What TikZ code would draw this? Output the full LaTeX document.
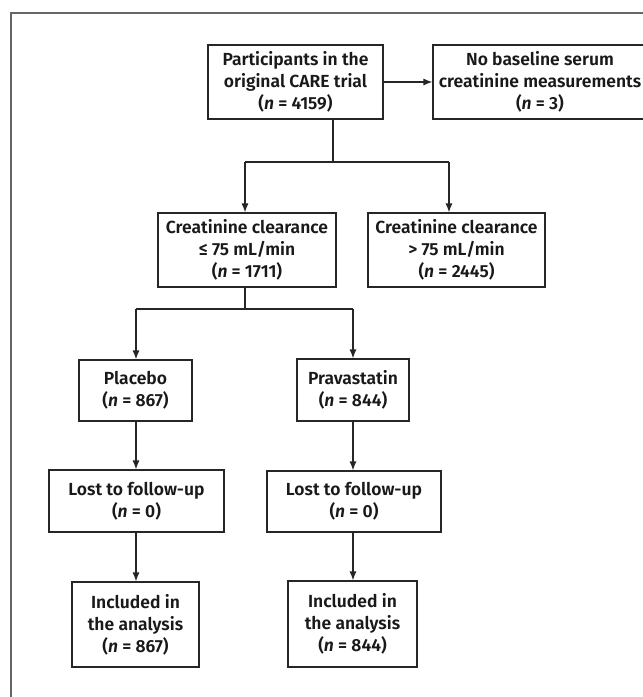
\documentclass[tikz,border=0pt]{standalone}
\usepackage{fontspec}
\setmainfont{Fira Sans}[BoldFont={Fira Sans SemiBold}, BoldItalicFont={Fira Sans SemiBold Italic}]
\usetikzlibrary{arrows.meta}
\tikzset{
  box/.style={draw=black!85, line width=1.2pt, align=center, inner sep=0pt,
    font=\fontsize{17.5}{22}\selectfont\bfseries, text=black!90},
  arr/.style={draw=black!85, line width=1.2pt, -{Latex[length=9pt,width=7pt]}},
  ln/.style={draw=black!85, line width=1.2pt},
  frame/.style={draw=black!60, line width=1.8pt}
}
\newcommand{\nn}{\textit{n}}
\begin{document}
\begin{tikzpicture}[x=1pt,y=-1pt]
\useasboundingbox (0,0) rectangle (643,697);
\fill[white] (0,0) rectangle (643,697);
\draw[frame] (11,720) -- (11,13) -- (700,13);

\node[box, minimum width=175pt, minimum height=74pt] (P) at (295.5,82) {Participants in the\\original CARE trial\\(\nn{} = 4159)};
\node[box, minimum width=214pt, minimum height=74pt] (N) at (540,82) {No baseline serum\\creatinine measurements\\(\nn{} = 3)};
\node[box, minimum width=178pt, minimum height=74pt] (L) at (247,250) {Creatinine clearance\\≤ 75 mL/min\\(\nn{} = 1711)};
\node[box, minimum width=177pt, minimum height=74pt] (G) at (456.5,250) {Creatinine clearance\\> 75 mL/min\\(\nn{} = 2445)};
\node[box, minimum width=113pt, minimum height=61pt] (PL) at (135.5,390.5) {Placebo\\(\nn{} = 867)};
\node[box, minimum width=112pt, minimum height=62pt] (PR) at (353,390) {Pravastatin\\(\nn{} = 844)};
\node[box, minimum width=175pt, minimum height=62pt] (LL) at (136.5,501) {Lost to follow-up\\(\nn{} = 0)};
\node[box, minimum width=174pt, minimum height=61pt] (LR) at (354,501.5) {Lost to follow-up\\(\nn{} = 0)};
\node[box, minimum width=127pt, minimum height=85pt] (IL) at (135.5,624.5) {Included in\\the analysis\\(\nn{} = 867)};
\node[box, minimum width=129pt, minimum height=86pt] (IR) at (352.5,624) {Included in\\the analysis\\(\nn{} = 844)};

\draw[arr] (P.east) -- (N.west);

\coordinate (j1) at (333,162);
\coordinate (ja) at (245,162);
\coordinate (jb) at (449,162);
\draw[ln] (P.south -| j1) -- (j1);
\draw[ln] (ja) -- (jb);
\draw[arr] (ja) -- (ja |- L.north);
\draw[arr] (jb) -- (jb |- G.north);

\coordinate (k1) at (245,309);
\coordinate (ka) at (136,309);
\coordinate (kb) at (353,309);
\draw[ln] (L.south -| k1) -- (k1);
\draw[ln] (ka) -- (kb);
\draw[arr] (ka) -- (ka |- PL.north);
\draw[arr] (kb) -- (kb |- PR.north);

\draw[arr] (PL.south -| ka) -- (ka |- LL.north);
\draw[arr] (PR.south -| kb) -- (kb |- LR.north);
\draw[arr] (LL.south -| ka) -- (ka |- IL.north);
\draw[arr] (LR.south -| kb) -- (kb |- IR.north);
\end{tikzpicture}
\end{document}
